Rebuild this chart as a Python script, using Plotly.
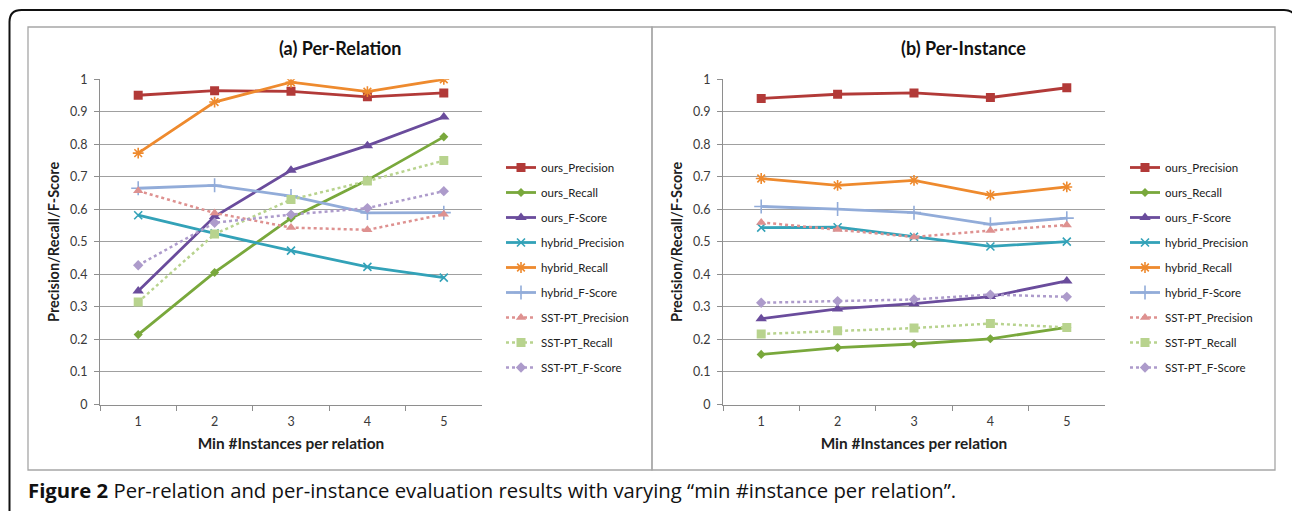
import plotly.graph_objects as go

W, H = 1292, 511

categories = ["1", "2", "3", "4", "5"]

series_names = ["ours_Precision", "ours_Recall", "ours_F-Score",
                "hybrid_Precision", "hybrid_Recall", "hybrid_F-Score",
                "SST-PT_Precision", "SST-PT_Recall", "SST-PT_F-Score"]

# (a) Per-Relation
rel_ours_precision = [0.951, 0.965, 0.963, 0.946, 0.958]
rel_ours_recall = [0.215, 0.406, 0.573, 0.690, 0.823]
rel_ours_fscore = [0.349, 0.578, 0.720, 0.796, 0.884]
rel_hybrid_precision = [0.582, 0.526, 0.473, 0.423, 0.390]
rel_hybrid_recall = [0.773, 0.930, 0.991, 0.962, 1.000]
rel_hybrid_fscore = [0.665, 0.674, 0.641, 0.589, 0.590]
rel_sst_precision = [0.657, 0.589, 0.544, 0.537, 0.585]
rel_sst_recall = [0.315, 0.524, 0.630, 0.687, 0.750]
rel_sst_fscore = [0.428, 0.559, 0.584, 0.604, 0.656]

# (b) Per-Instance
ins_ours_precision = [0.941, 0.954, 0.958, 0.944, 0.974]
ins_ours_recall = [0.154, 0.175, 0.186, 0.202, 0.237]
ins_ours_fscore = [0.264, 0.294, 0.310, 0.332, 0.380]
ins_hybrid_precision = [0.544, 0.545, 0.516, 0.486, 0.501]
ins_hybrid_recall = [0.695, 0.674, 0.689, 0.644, 0.669]
ins_hybrid_fscore = [0.609, 0.601, 0.590, 0.554, 0.573]
ins_sst_precision = [0.560, 0.538, 0.515, 0.535, 0.552]
ins_sst_recall = [0.217, 0.227, 0.235, 0.249, 0.237]
ins_sst_fscore = [0.313, 0.318, 0.323, 0.338, 0.331]

rel_series = [rel_ours_precision, rel_ours_recall, rel_ours_fscore,
              rel_hybrid_precision, rel_hybrid_recall, rel_hybrid_fscore,
              rel_sst_precision, rel_sst_recall, rel_sst_fscore]
ins_series = [ins_ours_precision, ins_ours_recall, ins_ours_fscore,
              ins_hybrid_precision, ins_hybrid_recall, ins_hybrid_fscore,
              ins_sst_precision, ins_sst_recall, ins_sst_fscore]

y_ticks = [0, 0.1, 0.2, 0.3, 0.4, 0.5, 0.6, 0.7, 0.8, 0.9, 1]
y_tick_text = ["0", "0.1", "0.2", "0.3", "0.4", "0.5", "0.6", "0.7", "0.8", "0.9", "1"]

panel_titles = ["(a) Per-Relation", "(b) Per-Instance"]
x_title = "Min #Instances per relation"
y_title = "Precision/Recall/F-Score"
caption_bold = "Figure 2"
caption_rest = " Per-relation and per-instance evaluation results with varying \u201cmin #instance per relation\u201d."

# styles
colors = ["#B23A38", "#79A83C", "#6A4C9C", "#33A2B8", "#EE8A2E",
          "#92ACD9", "#DE9190", "#B8D38E", "#AD9BCB"]
symbols = ["square", "diamond", "triangle-up", "x-thin", "asterisk",
           "cross-thin", "triangle-up", "square", "diamond"]
msizes = [9, 7, 10, 8, 9, 10, 9, 9, 8]
dashes = ["solid"] * 6 + ["dot"] * 3

FONT = "Lato"


def px(x):
    return x / W


def py(y):
    return 1 - y / H


fig = go.Figure()

for panel, data in enumerate([rel_series, ins_series]):
    xa = "x" if panel == 0 else "x2"
    ya = "y" if panel == 0 else "y2"
    lg = "legend" if panel == 0 else "legend2"
    for i, name in enumerate(series_names):
        open_sym = symbols[i] in ("x-thin", "asterisk", "cross-thin")
        marker = dict(symbol=symbols[i], size=msizes[i], color=colors[i])
        if open_sym:
            marker["line"] = dict(color=colors[i], width=1.6)
        fig.add_trace(go.Scatter(
            x=categories, y=data[i], name=name, mode="lines+markers",
            xaxis=xa, yaxis=ya, legend=lg, legendgroup=f"{panel}_{name}",
            line=dict(color=colors[i], width=2.8 if dashes[i] == "solid" else 2.5,
                      dash=dashes[i]),
            marker=marker,
        ))

axis_common = dict(showgrid=False, showline=True, linecolor="#8E8E8E", linewidth=1,
                   ticks="outside", ticklen=5, tickcolor="#8E8E8E",
                   tickfont=dict(family=FONT, size=12.5, color="#3A3A3A"),
                   zeroline=False, automargin=False)

yaxis_common = dict(axis_common, range=[0, 1], tickvals=y_ticks, ticktext=y_tick_text,
                    showgrid=True, gridcolor="#A0A0A0", gridwidth=1.2,
                    ticklabelstandoff=4,
                    title=dict(text=f"<b>{y_title}</b>",
                               font=dict(family=FONT, size=14.5, color="#202020"),
                               standoff=6))
xaxis_common = dict(axis_common, type="category", tickson="boundaries",
                    range=[-0.5, 4.5], ticklabelstandoff=5,
                    title=dict(text=f"<b>{x_title}</b>",
                               font=dict(family=FONT, size=15.4, color="#202020"),
                               standoff=10))

legend_common = dict(font=dict(family=FONT, size=11.5, color="#202020"),
                     tracegroupgap=6, bgcolor="rgba(0,0,0,0)",
                     xanchor="left", yanchor="top", itemclick=False)

fig.update_layout(
    width=W, height=H,
    margin=dict(l=0, r=0, t=0, b=0, pad=0, autoexpand=False),
    paper_bgcolor="white", plot_bgcolor="white",
    showlegend=True,
    xaxis=dict(xaxis_common, domain=[px(100), px(482)], anchor="y"),
    yaxis=dict(yaxis_common, domain=[py(404.5), py(79.3)], anchor="x"),
    xaxis2=dict(xaxis_common, domain=[px(723), px(1105)], anchor="y2"),
    yaxis2=dict(yaxis_common, domain=[py(404.5), py(79.3)], anchor="x2"),
    legend=dict(legend_common, x=px(501), y=py(153)),
    legend2=dict(legend_common, x=px(1125), y=py(153)),
)

shapes = []
# outer rounded black frame (partially off-canvas)
r = 12
path = (f"M {px(9.5)},{py(515)} L {px(9.5)},{py(10 + r)} "
        f"Q {px(9.5)},{py(10)} {px(9.5 + r)},{py(10)} "
        f"L {px(1296 - r)},{py(10)} Q {px(1296)},{py(10)} {px(1296)},{py(10 + r)} "
        f"L {px(1296)},{py(515)}")
shapes.append(dict(type="path", xref="paper", yref="paper", path=path,
                   line=dict(color="#111111", width=2)))
# panel frames
for x0, x1 in [(28, 652), (652, 1275)]:
    shapes.append(dict(type="rect", xref="paper", yref="paper",
                       x0=px(x0), x1=px(x1), y0=py(470), y1=py(27),
                       line=dict(color="#A6A6A6", width=1.3), fillcolor="rgba(0,0,0,0)"))
fig.update_layout(shapes=shapes)

annotations = [
    dict(text=f"<b>{panel_titles[0]}</b>", x=px(340), y=py(48), xref="paper", yref="paper",
         xanchor="center", yanchor="middle",
         showarrow=False, font=dict(family=FONT, size=18, color="#111111")),
    dict(text=f"<b>{panel_titles[1]}</b>", x=px(964), y=py(48), xref="paper", yref="paper",
         xanchor="center", yanchor="middle",
         showarrow=False, font=dict(family=FONT, size=18, color="#111111")),
    dict(text=f"<b>{caption_bold}</b>{caption_rest}", x=px(26), y=py(490),
         xref="paper", yref="paper", xanchor="left", yanchor="middle", showarrow=False,
         font=dict(family="Open Sans", size=20.3, color="#111111")),
]
fig.update_layout(annotations=annotations)

fig.write_html(
    "out.html",
    config={"displayModeBar": False},
    post_script="document.body.style.margin='0';document.body.style.padding='0';",
)
